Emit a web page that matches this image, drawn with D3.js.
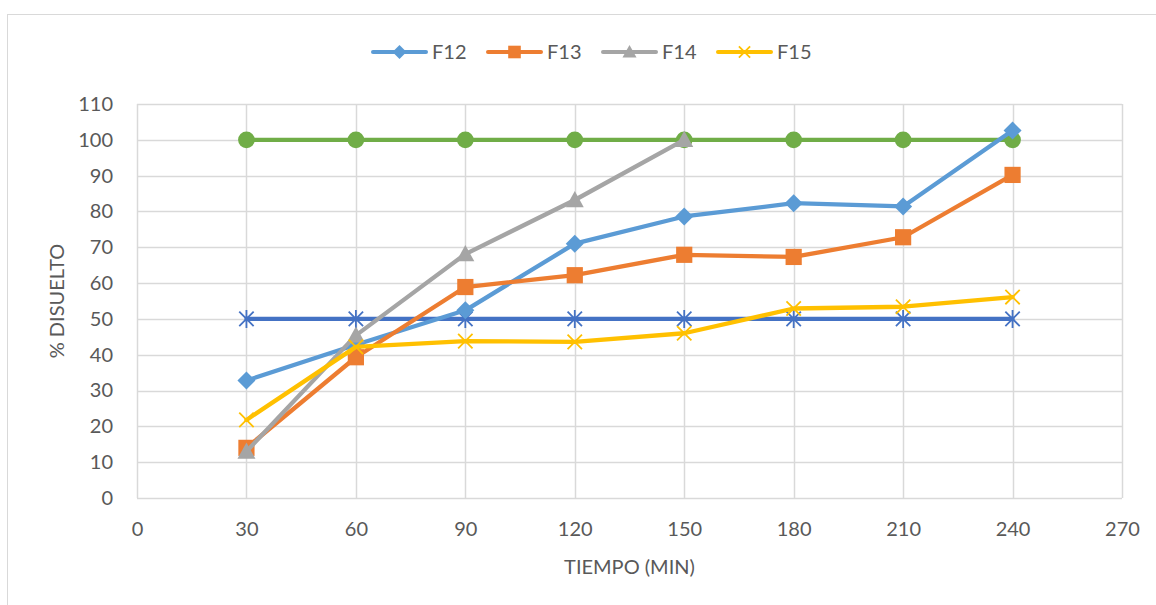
<!DOCTYPE html>
<html>
<head>
<meta charset="utf-8">
<script src="https://cdn.jsdelivr.net/npm/d3@7"></script>
<style>
  html, body { margin: 0; padding: 0; background: #fff; }
  svg { display: block; }
  svg text { font-family: Lato, "Open Sans", sans-serif; }
</style>
</head>
<body>
<svg id="chart" width="1156" height="605"></svg>
<script>
// Sampling times (min)
const tiempos = [30, 60, 90, 120, 150, 180, 210, 240];
// % dissolved per formulation
const f12 = [32.8, 42.8, 52.4, 71.0, 78.6, 82.3, 81.4, 102.6];
const f13 = [14.0, 39.3, 58.9, 62.2, 67.9, 67.3, 72.8, 90.2];
const f14 = [13.0, 45.4, 68.1, 83.2, 100.0];
const f15 = [21.8, 42.2, 43.8, 43.6, 46.0, 52.9, 53.4, 56.1];
// Reference lines
const ref50 = [50, 50, 50, 50, 50, 50, 50, 50];
const ref100 = [100, 100, 100, 100, 100, 100, 100, 100];

const xTicks = [0, 30, 60, 90, 120, 150, 180, 210, 240, 270];
const yTicks = [0, 10, 20, 30, 40, 50, 60, 70, 80, 90, 100, 110];

const series = [
  { name: "F12", values: f12, color: "#5B9BD5", marker: "diamond", legend: true },
  { name: "F13", values: f13, color: "#ED7D31", marker: "square", legend: true },
  { name: "F14", values: f14, color: "#A5A5A5", marker: "triangle", legend: true },
  { name: "F15", values: f15, color: "#FFC000", marker: "x", legend: true },
  { name: "Q50", values: ref50, color: "#4472C4", marker: "star", legend: false },
  { name: "Q100", values: ref100, color: "#70AD47", marker: "circle", legend: false }
];

const svg = d3.select("#chart");
const textColor = "#595959";
const gridColor = "#D9D9D9";
const fontSize = "20px";

// Outer chart frame
svg.append("rect")
  .attr("x", 7.5).attr("y", 14.5)
  .attr("width", 1160).attr("height", 600)
  .attr("fill", "none").attr("stroke", gridColor).attr("stroke-width", 1);

const plot = { left: 137, right: 1122, top: 104, bottom: 498 };
const x = d3.scaleLinear().domain([0, 270]).range([plot.left, plot.right]);
const y = d3.scaleLinear().domain([0, 110]).range([plot.bottom, plot.top]);

// Gridlines
const g = svg.append("g");
g.selectAll("line.h").data(yTicks).join("line")
  .attr("x1", plot.left).attr("x2", plot.right)
  .attr("y1", d => Math.round(y(d)) + 0.5).attr("y2", d => Math.round(y(d)) + 0.5)
  .attr("stroke", gridColor).attr("stroke-width", 1.5);
g.selectAll("line.v").data(xTicks).join("line")
  .attr("y1", plot.top).attr("y2", plot.bottom)
  .attr("x1", d => Math.round(x(d)) + 0.5).attr("x2", d => Math.round(x(d)) + 0.5)
  .attr("stroke", gridColor).attr("stroke-width", 1.5);

// Axes (tick labels only)
const xAxis = d3.axisBottom(x).tickValues(xTicks).tickSize(0).tickPadding(24);
const yAxis = d3.axisLeft(y).tickValues(yTicks).tickSize(0).tickPadding(24);
const gx = svg.append("g").attr("transform", `translate(0,${plot.bottom})`).call(xAxis);
const gy = svg.append("g").attr("transform", `translate(${plot.left},0)`).call(yAxis);
[gx, gy].forEach(a => {
  a.attr("font-size", null).attr("font-family", null);
  a.select(".domain").remove();
  a.selectAll("text").attr("fill", textColor).attr("font-size", fontSize);
});

// Axis titles
svg.append("text")
  .attr("x", x(135)).attr("y", 574)
  .attr("text-anchor", "middle").attr("fill", textColor)
  .attr("font-size", fontSize).text("TIEMPO (MIN)");
svg.append("text")
  .attr("transform", `translate(64,${y(55)}) rotate(-90)`)
  .attr("text-anchor", "middle").attr("fill", textColor)
  .attr("font-size", fontSize).text("% DISUELTO");

// Marker drawing
function drawMarker(sel, type, color, size) {
  const s = size;
  if (type === "diamond") {
    sel.append("path").attr("d", `M0,${-s}L${s},0L0,${s}L${-s},0Z`).attr("fill", color);
  } else if (type === "square") {
    sel.append("rect").attr("x", -s * 0.9).attr("y", -s * 0.9)
      .attr("width", s * 1.8).attr("height", s * 1.8).attr("fill", color);
  } else if (type === "triangle") {
    sel.append("path").attr("d", `M0,${-s}L${s},${s * 0.8}L${-s},${s * 0.8}Z`).attr("fill", color);
  } else if (type === "x") {
    const r = s * 0.8;
    sel.append("path").attr("d", `M${-r},${-r}L${r},${r}M${-r},${r}L${r},${-r}`)
      .attr("stroke", color).attr("stroke-width", 1.8).attr("fill", "none");
  } else if (type === "star") {
    const r = s * 0.8;
    sel.append("path").attr("d", `M${-r},${-r}L${r},${r}M${-r},${r}L${r},${-r}M0,${-s}L0,${s}`)
      .attr("stroke", color).attr("stroke-width", 1.8).attr("fill", "none");
  } else if (type === "circle") {
    sel.append("circle").attr("r", s * 0.93).attr("fill", color);
  }
}

const line = d3.line().x(d => x(d.t)).y(d => y(d.v));

// Draw reference lines first, then formulations
const order = [series[4], series[5], series[0], series[1], series[2], series[3]];
order.forEach(s => {
  const pts = s.values.map((v, i) => ({ t: tiempos[i], v }));
  svg.append("path").datum(pts)
    .attr("d", line).attr("fill", "none")
    .attr("stroke", s.color).attr("stroke-width", 4.3)
    .attr("stroke-linejoin", "round").attr("stroke-linecap", "round");
  pts.forEach(p => {
    const m = svg.append("g").attr("transform", `translate(${x(p.t)},${y(p.v)})`);
    drawMarker(m, s.marker, s.color, 9);
  });
});

// Legend
const legendItems = series.filter(s => s.legend);
const legendX = [373, 488, 603, 718];
legendItems.forEach((s, i) => {
  const lg = svg.append("g").attr("transform", `translate(${legendX[i]},52)`);
  lg.append("line").attr("x1", 0).attr("x2", 53).attr("y1", 0).attr("y2", 0)
    .attr("stroke", s.color).attr("stroke-width", 4).attr("stroke-linecap", "round");
  const m = lg.append("g").attr("transform", "translate(26.5,0)");
  drawMarker(m, s.marker, s.color, 7);
  lg.append("text").attr("x", 59).attr("y", 0).attr("dy", "0.35em")
    .attr("fill", textColor).attr("font-size", fontSize).text(s.name);
});
</script>
</body>
</html>
